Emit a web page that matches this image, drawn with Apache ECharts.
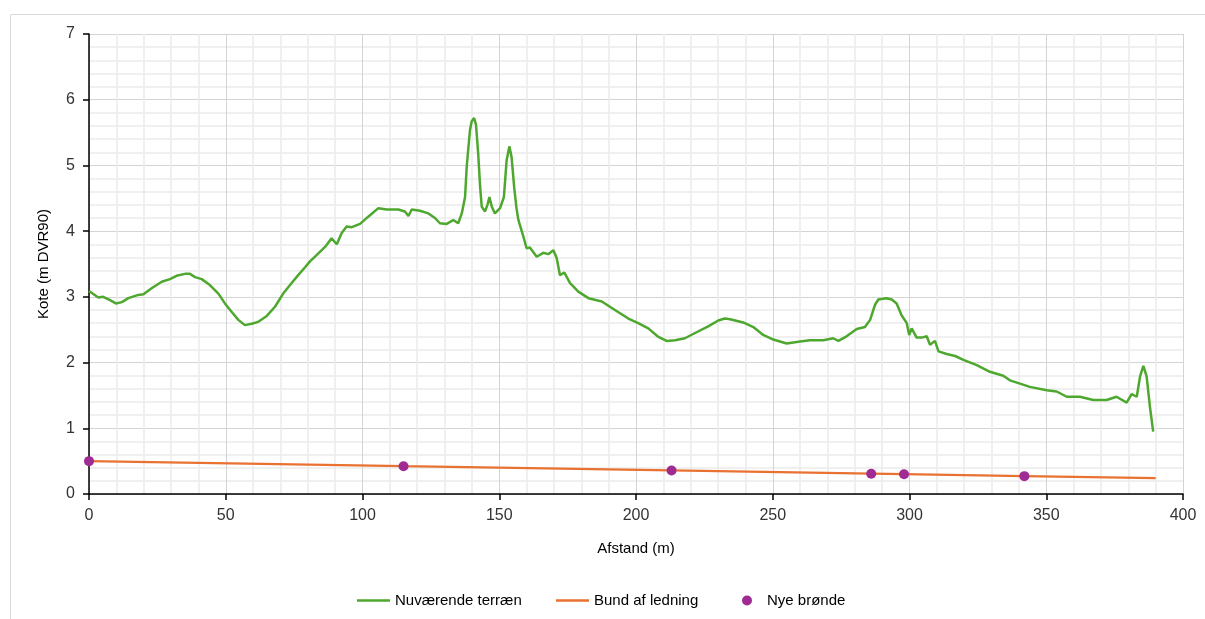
<!DOCTYPE html>
<html>
<head>
<meta charset="utf-8">
<script src="https://cdn.jsdelivr.net/npm/echarts@6/dist/echarts.min.js"></script>
<style>
html,body{margin:0;padding:0;background:#fff;}
#c{width:1205px;height:619px;}
</style>
</head>
<body>
<div id="c"></div>
<script>
// Terrain profile (Nuværende terræn)
const terrainDist = [0,3.4,5.2,7.7,9.8,12,14.4,18,19.9,22.9,26.6,29.6,32,35.1,36.9,38.8,41.2,44.2,47.3,49.7,52.2,54.6,57,59.5,61.9,65,68,71,74.1,76.5,79,80.8,83.3,86.3,88.7,90.6,92.4,94.2,96.1,99.1,102.1,105.8,108.8,113.1,115.5,116.8,118,121,124.1,126.5,128.3,130.8,133.2,135,136.3,137.5,138.1,139.3,139.9,140.8,141.5,142.3,143,143.6,144.8,145.7,146.4,147.3,148.4,150.3,151.7,152.7,153.7,154.5,155.5,156.3,157,158.8,160,161.2,163.7,166.1,167.9,169.8,171,172.2,173.8,175.9,178.9,182.6,187.5,192.3,197.2,200.8,204.5,208.2,211.2,214.3,217.9,221.6,226.4,230.1,232.5,234.4,239.2,242.9,246.5,250.2,255.1,260,263.6,268.5,272.1,274,277,280.7,283.7,285.6,287.4,288.6,291.6,293.5,295.3,297.1,299,299.9,300.8,302.6,304.5,306.3,307.5,309.3,310.6,313.6,316.7,319.7,324.6,329.4,334.3,336.7,340.4,344,350.2,353.8,357.5,362.3,367.2,372.1,375.7,379.4,381.2,383.1,384.3,385.5,386.7,387.9,389.1];
const terrainKote = [3.09,2.99,3.00,2.95,2.90,2.92,2.98,3.03,3.04,3.13,3.23,3.27,3.32,3.35,3.35,3.30,3.27,3.18,3.05,2.90,2.77,2.65,2.57,2.59,2.62,2.71,2.85,3.05,3.21,3.33,3.45,3.54,3.64,3.76,3.89,3.80,3.97,4.07,4.06,4.11,4.22,4.35,4.33,4.33,4.30,4.23,4.33,4.31,4.27,4.20,4.12,4.11,4.17,4.12,4.27,4.52,4.98,5.54,5.67,5.72,5.62,5.18,4.68,4.37,4.30,4.40,4.52,4.37,4.27,4.35,4.52,5.08,5.29,5.13,4.65,4.35,4.17,3.92,3.74,3.75,3.61,3.67,3.65,3.71,3.59,3.33,3.37,3.21,3.08,2.98,2.93,2.80,2.67,2.60,2.52,2.39,2.33,2.34,2.37,2.45,2.55,2.64,2.67,2.66,2.61,2.54,2.42,2.35,2.29,2.32,2.34,2.34,2.37,2.33,2.40,2.51,2.54,2.65,2.88,2.96,2.98,2.96,2.90,2.72,2.60,2.42,2.52,2.38,2.38,2.40,2.27,2.33,2.17,2.13,2.10,2.04,1.96,1.86,1.80,1.73,1.68,1.63,1.58,1.56,1.48,1.48,1.43,1.43,1.48,1.39,1.52,1.48,1.79,1.95,1.79,1.33,0.95];

// Pipe invert (Bund af ledning)
const pipeDist = [0,115,213,286,298,342,390];
const pipeKote = [0.50,0.423,0.358,0.309,0.301,0.272,0.24];

// New manholes (Nye brønde)
const wellDist = [0,115,213,286,298,342];
const wellKote = [0.50,0.423,0.358,0.309,0.301,0.272];

const xTicks = [0,50,100,150,200,250,300,350,400];
const yTicks = [0,1,2,3,4,5,6,7];

const zip = (a,b) => a.map((v,i) => [v,b[i]]);

const font = 'Liberation Sans';
const txt = '#333333';

const chart = echarts.init(document.getElementById('c'), null, {renderer:'canvas'});
chart.setOption({
  backgroundColor:'#fff',
  animation:false,
  graphic:[{
    type:'rect', left:8, top:12, shape:{width:1210, height:620},
    style:{fill:'none', stroke:'#d9d9d9', lineWidth:1}, silent:true, z:-10
  }],
  grid:{left:89, right:22, top:34, bottom:125, containLabel:false},
  xAxis:{
    type:'value', min:xTicks[0], max:xTicks[xTicks.length-1], interval:50,
    name:'Afstand (m)', nameLocation:'middle', nameGap:47,
    nameTextStyle:{fontFamily:font, fontSize:15, color:'#000'},
    axisLine:{show:true, onZero:false, lineStyle:{color:'#000', width:1.5}},
    axisTick:{show:true, length:6, lineStyle:{color:'#000', width:1.5}},
    axisLabel:{fontFamily:font, fontSize:16, color:txt, margin:14},
    splitLine:{show:true, lineStyle:{color:'#d4d4d4', width:1}},
    minorTick:{show:false, splitNumber:5},
    minorSplitLine:{show:true, lineStyle:{color:'#ececec', width:1.5}}
  },
  yAxis:{
    type:'value', min:yTicks[0], max:yTicks[yTicks.length-1], interval:1,
    name:'Kote (m DVR90)', nameLocation:'middle', nameGap:38, nameRotate:90,
    nameTextStyle:{fontFamily:font, fontSize:15, color:'#000'},
    axisLine:{show:true, lineStyle:{color:'#000', width:1.5}},
    axisTick:{show:true, length:6, lineStyle:{color:'#000', width:1.5}},
    axisLabel:{fontFamily:font, fontSize:16, color:txt, margin:14},
    splitLine:{show:true, lineStyle:{color:'#d4d4d4', width:1}},
    minorTick:{show:false, splitNumber:5},
    minorSplitLine:{show:true, lineStyle:{color:'#ececec', width:1.5}}
  },
  legend:[
    {data:[{name:'Nuværende terræn', icon:'rect', itemStyle:{color:'#4ea72e'}}], left:352, top:588, itemWidth:33, itemHeight:2.5,
     textStyle:{fontFamily:font, fontSize:15, color:'#000'}},
    {data:[{name:'Bund af ledning', icon:'rect', itemStyle:{color:'#e97132'}}], left:551, top:588, itemWidth:33, itemHeight:2.5,
     textStyle:{fontFamily:font, fontSize:15, color:'#000'}},
    {data:[{name:'Nye brønde', icon:'circle'}], left:737, top:588, itemWidth:10, itemHeight:10,
     textStyle:{fontFamily:font, fontSize:15, color:'#000', padding:[0,0,0,10]}}
  ],
  series:[
    {name:'Nuværende terræn', type:'line', data:zip(terrainDist, terrainKote),
     symbol:'none', lineStyle:{color:'#4ea72e', width:2.5}, itemStyle:{color:'#4ea72e'}, z:3},
    {name:'Bund af ledning', type:'line', data:zip(pipeDist, pipeKote),
     symbol:'none', lineStyle:{color:'#e97132', width:2.25}, itemStyle:{color:'#e97132'}, z:2},
    {name:'Nye brønde', type:'scatter', data:zip(wellDist, wellKote),
     symbol:'circle', symbolSize:10, itemStyle:{color:'#a02b93', opacity:1}, z:4}
  ]
});
</script>
</body>
</html>
